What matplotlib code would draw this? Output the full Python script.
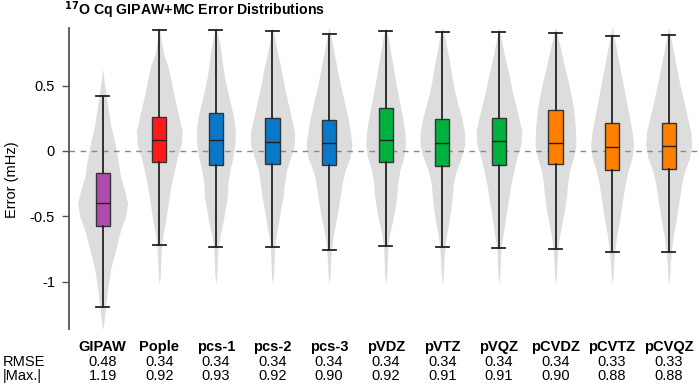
import matplotlib
matplotlib.use("Agg")
import matplotlib.pyplot as plt
import numpy as np

plt.rcParams['font.family'] = ['Liberation Sans', 'DejaVu Sans']

# ---------------- data ----------------
categories = ["GIPAW", "Pople", "pcs-1", "pcs-2", "pcs-3", "pVDZ", "pVTZ",
              "pVQZ", "pCVDZ", "pCVTZ", "pCVQZ"]
rmse = ["0.48", "0.34", "0.34", "0.34", "0.34", "0.34", "0.34", "0.34", "0.34", "0.33", "0.33"]
maxabs = ["1.19", "0.92", "0.93", "0.92", "0.90", "0.92", "0.91", "0.91", "0.90", "0.88", "0.88"]

whisker_low = [-1.19, -0.72, -0.735, -0.73, -0.756, -0.723, -0.735, -0.743, -0.746, -0.773, -0.771]
q1 = [-0.57, -0.082, -0.105, -0.10, -0.109, -0.084, -0.112, -0.105, -0.10, -0.145, -0.135]
median = [-0.395, 0.082, 0.082, 0.071, 0.059, 0.086, 0.059, 0.074, 0.059, 0.028, 0.038]
q3 = [-0.17, 0.257, 0.29, 0.25, 0.234, 0.326, 0.244, 0.25, 0.315, 0.211, 0.216]
whisker_high = [0.42, 0.92, 0.925, 0.916, 0.895, 0.916, 0.911, 0.908, 0.903, 0.88, 0.883]

box_colors = ["#AE4DAE", "#FF1A1A", "#0A78C8", "#0A78C8", "#0A78C8",
              "#00B140", "#00B140", "#00B140", "#FF8000", "#FF8000", "#FF8000"]

# violin density profiles (relative half-widths at given error levels)
gipaw_levels = [0.63, 0.5, 0.35, 0.2, 0.05, -0.1, -0.2, -0.3, -0.4, -0.5, -0.6,
                -0.75, -0.9, -1.05, -1.2, -1.3, -1.37]
gipaw_density = [0, 2, 5, 8, 12.5, 16, 18, 22, 25, 23, 18, 13, 8, 5, 2.7, 1.3, 0]

levels = [0.95, 0.85, 0.75, 0.65, 0.55, 0.45, 0.35, 0.25, 0.15, 0.05, -0.05,
          -0.15, -0.25, -0.35, -0.45, -0.55, -0.65, -0.75, -0.85, -0.95, -1.02]
density_pople = [0, 2, 4, 8.5, 11.5, 14, 17, 20, 23, 22, 18, 15, 12, 10, 8, 6, 3.5, 2, 1.5, 1, 0]
density_pcs1 = [0, 3, 5.5, 7, 9, 12, 15, 18, 19.5, 19, 17, 14, 12, 11.5, 9, 7, 4, 2, 1.5, 1, 0]
density_pcs2 = [0, 2.5, 5, 8, 10.5, 13, 16, 19, 22, 22, 18, 14, 12, 10.5, 8, 6, 3.5, 2, 1.5, 1, 0]
density_pcs3 = [0, 2.5, 5, 7.5, 10, 13, 16, 19, 21, 23, 21, 16, 13, 11, 9, 6.5, 4, 2.5, 1.5, 1, 0]
density_pvdz = [0, 3, 5, 7.5, 9.5, 12, 14.5, 17, 19, 20, 18, 14, 12, 11, 9, 6.5, 3.5, 2, 1.5, 1, 0]
density_pvtz = [0, 3, 5.5, 8, 10, 12.5, 16, 19.5, 22, 22.5, 19, 14, 11, 10, 8.5, 6.5, 4, 2.5, 1.5, 1, 0]
density_pvqz = [0, 2.5, 5, 8, 11, 13.5, 17, 20, 23, 22, 18, 15, 12, 10, 8, 6, 4, 2, 1.5, 1, 0]
density_pcvdz = [0, 3, 6, 9, 12, 15, 17.5, 19, 20, 20.5, 18, 14, 12, 11, 9, 6.5, 4, 2.5, 1.5, 1, 0]
density_pcvtz = [0, 2.5, 5, 7.5, 10, 12.5, 15, 17.5, 20, 21.5, 20, 16, 13, 11, 9, 7, 4.5, 3, 1.5, 1, 0]
density_pcvqz = [0, 2.5, 5, 7.5, 10, 13, 16, 19, 22, 23, 21, 16, 13, 11, 9, 7, 4.5, 3, 1.5, 1, 0]

violin_levels = [gipaw_levels] + [levels] * 10
violin_density = [gipaw_density, density_pople, density_pcs1, density_pcs2, density_pcs3,
                  density_pvdz, density_pvtz, density_pvqz, density_pcvdz, density_pcvtz,
                  density_pcvqz]

# ---------------- plot ----------------
W, H = 699, 390
fig = plt.figure(figsize=(W / 100, H / 100), dpi=100)
ax = fig.add_axes([69 / W, 1 - 329 / H, 1 - 69 / W, (329 - 28) / H])

positions = np.arange(1, len(categories) + 1)
dens_scale = 1 / 56.6  # density units -> half-width in x data units

for pos, lv, dn in zip(positions, violin_levels, violin_density):
    lv = np.asarray(lv)
    dn = np.asarray(dn) * dens_scale
    ax.fill_betweenx(lv, pos - dn, pos + dn, color="#DDDDDD", linewidth=0, zorder=1)

ax.axhline(0, color="#888888", lw=1.0, ls=(0, (4, 4)), zorder=2)

stats = []
for i, name in enumerate(categories):
    stats.append(dict(label=name, whislo=whisker_low[i], q1=q1[i], med=median[i],
                      q3=q3[i], whishi=whisker_high[i], fliers=[]))

bp = ax.bxp(stats, positions=positions, widths=0.25, patch_artist=True,
            showfliers=False, manage_ticks=False,
            boxprops=dict(edgecolor="#333333", linewidth=1.0),
            medianprops=dict(color="#222222", linewidth=1.0),
            whiskerprops=dict(color="#222222", linewidth=1.3),
            capprops=dict(color="#222222", linewidth=1.3),
            capwidths=0.23, zorder=3)
for patch, c in zip(bp["boxes"], box_colors):
    patch.set_facecolor(c)

ax.set_xlim(0.405, 11.535)
ax.set_ylim(-1.359, 0.939)

for s in ["top", "right", "bottom"]:
    ax.spines[s].set_visible(False)
ax.spines["left"].set_color("#555555")
ax.spines["left"].set_linewidth(1.3)
ax.set_xticks([])
ax.set_yticks([0.5, 0, -0.5, -1])
ax.set_yticklabels(["0.5", "0", "-0.5", "-1"])
ax.tick_params(axis="y", length=5, width=1.0, color="#555555", pad=5, labelsize=10.5)
ax.patch.set_alpha(0)

tr = ax.get_xaxis_transform()
for pos, name, r, m in zip(positions, categories, rmse, maxabs):
    ax.text(pos, -0.0598, name, transform=tr, ha="center", va="center",
            fontsize=10.5, fontweight="bold", clip_on=False)
    ax.text(pos, -0.1086, r, transform=tr, ha="center", va="center",
            fontsize=10.5, clip_on=False)
    ax.text(pos, -0.155, m, transform=tr, ha="center", va="center",
            fontsize=10.5, clip_on=False)

fig.text(3 / W, 1 - 361.7 / H, "RMSE", ha="left", va="center", fontsize=10.5)
fig.text(3 / W, 1 - 375.7 / H, "|Max.|", ha="left", va="center", fontsize=10.5)

fig.text(12 / W, 1 - 180 / H, "Error (mHz)", rotation=90, ha="center", va="center",
         fontsize=10.5)
fig.text(64 / W, 1 - 10.5 / H, r"$\mathbf{^{17}}$O Cq GIPAW+MC Error Distributions",
         ha="left", va="center", fontsize=10.2, fontweight="bold")

fig.savefig("out.png", dpi=100)
